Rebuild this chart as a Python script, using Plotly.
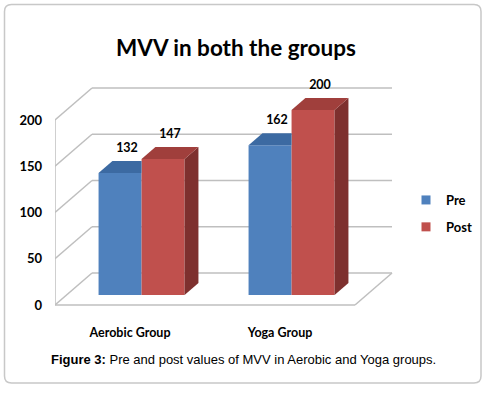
import plotly.graph_objects as go

# ---- data ----
groups = ["Aerobic Group", "Yoga Group"]
series_names = ["Pre", "Post"]
pre_values = [132, 162]
post_values = [147, 200]
y_ticks = [0, 50, 100, 150, 200]

# ---- styling / projection parameters ----
FONT = "Lato"
front_colors = {"Pre": "#4F81BD", "Post": "#C0504D"}
top_colors = {"Pre": "#3C6AA2", "Post": "#A03F3C"}
side_colors = {"Pre": "#2F5689", "Post": "#7E302E"}
grid_color = "#BFBFBF"

WX, WY = 0.2467, 34.59        # full depth offset of back wall (x units, y units)
D0 = 0.3125                   # depth of bar front face
DD = 0.375                    # bar depth
BW = 0.2867                   # bar width (x units)

x_range = [-0.5, 1.8667]
y_range = [-10.81, 248.65]
L, R, T, B = 55, 76, 75, 79
W, H = 486, 394

fig = go.Figure()

shapes = []
line = dict(color=grid_color, width=1.5)
for v in y_ticks:
    shapes.append(dict(type="line", layer="below", xref="x", yref="y",
                       x0=-0.5 + WX, y0=v + WY, x1=1.5 + WX, y1=v + WY, line=line))
    shapes.append(dict(type="line", layer="below", xref="x", yref="y",
                       x0=-0.5, y0=v, x1=-0.5 + WX, y1=v + WY, line=line))
shapes.append(dict(type="line", layer="below", xref="x", yref="y",
                   x0=-0.5, y0=0, x1=-0.5, y1=max(y_ticks), line=line))
shapes.append(dict(type="line", layer="below", xref="x", yref="y",
                   x0=-0.5, y0=0, x1=1.5, y1=0, line=line))
shapes.append(dict(type="line", layer="below", xref="x", yref="y",
                   x0=1.5, y0=0, x1=1.5 + WX, y1=WY, line=line))


def px2paper_x(px):
    return (px - L) / (W - L - R)


def px2paper_y(py):
    return (H - B - py) / (H - T - B)


x0b, x1b = px2paper_x(4.5), px2paper_x(481)
y0b, y1b = px2paper_y(383), px2paper_y(4.5)
rx, ry = 7 / (W - L - R), 7 / (H - T - B)
path = (f"M{x0b+rx},{y1b} L{x1b-rx},{y1b} Q{x1b},{y1b} {x1b},{y1b-ry} "
        f"L{x1b},{y0b+ry} Q{x1b},{y0b} {x1b-rx},{y0b} L{x0b+rx},{y0b} "
        f"Q{x0b},{y0b} {x0b},{y0b+ry} L{x0b},{y1b-ry} Q{x0b},{y1b} {x0b+rx},{y1b} Z")
shapes.append(dict(type="path", xref="paper", yref="paper", path=path,
                   line=dict(color="#C8C8C8", width=1.5), layer="below"))

base = D0 * WY
sx = D0 * WX
dxu, dyu = DD * WX, DD * WY

values = {"Pre": pre_values, "Post": post_values}

for si, name in enumerate(series_names):
    xs = [i + sx + (-BW / 2 if si == 0 else BW / 2) for i in range(len(groups))]
    fig.add_trace(go.Bar(
        x=xs, y=values[name], base=[base] * len(groups), width=BW,
        marker=dict(color=front_colors[name], line=dict(width=0)),
        name=name, showlegend=False, hoverinfo="skip"))

label_x, label_y, label_t = [], [], []
for i in range(len(groups)):
    for si, name in enumerate(series_names):
        v = values[name][i]
        x0 = i + sx + (-BW if si == 0 else 0)
        x1 = x0 + BW
        top = base + v
        tx = [x0, x1, x1 + dxu, x0 + dxu, x0]
        ty = [top, top, top + dyu, top + dyu, top]
        if si == 0:
            nxt = values[series_names[1]][i]
            if nxt >= v:
                tx = [x0, x1, x1, x0 + dxu, x0]
        else:
            fig.add_trace(go.Scatter(
                x=[x1, x1, x1 + dxu, x1 + dxu, x1],
                y=[base, top, top + dyu, base + dyu, base],
                fill="toself", fillcolor=side_colors[name], mode="lines",
                line=dict(width=0), showlegend=False, hoverinfo="skip"))
        fig.add_trace(go.Scatter(
            x=tx, y=ty, fill="toself", fillcolor=top_colors[name], mode="lines",
            line=dict(width=0), showlegend=False, hoverinfo="skip"))
        label_x.append((x0 + x1) / 2 + dxu / 2)
        label_y.append(top + dyu + 6)
        label_t.append(str(v))

fig.add_trace(go.Scatter(
    x=label_x, y=label_y, text=label_t, mode="text", textposition="top center",
    textfont=dict(family=FONT, size=12.5, color="black", weight="bold"),
    showlegend=False, hoverinfo="skip"))

for name in series_names:
    fig.add_trace(go.Scatter(
        x=[None], y=[None], mode="markers", name=name, legendgroup=name,
        marker=dict(symbol="square", size=9, color=front_colors[name])))

fig.update_layout(
    width=W, height=H,
    margin=dict(l=L, r=R, t=T, b=B, autoexpand=False),
    paper_bgcolor="white", plot_bgcolor="white",
    barmode="overlay",
    shapes=shapes,
    title=dict(text="MVV in both the groups", x=236 / W, xanchor="center",
               y=1 - 48 / H, yanchor="middle",
               font=dict(family=FONT, size=22.5, color="black", weight="bold")),
    xaxis=dict(range=x_range, tickvals=list(range(len(groups))), ticktext=groups,
               showgrid=False, zeroline=False, showline=False, ticks="",
               ticklabelstandoff=8,
               tickfont=dict(family=FONT, size=12.5, color="black", weight="bold")),
    yaxis=dict(range=y_range, tickvals=y_ticks, showgrid=False, zeroline=False,
               showline=False, ticks="", ticklabelstandoff=12,
               tickfont=dict(family=FONT, size=13, color="black", weight="bold")),
    legend=dict(x=px2paper_x(406), y=px2paper_y(185), xanchor="left", yanchor="top",
                font=dict(family=FONT, size=13, color="black", weight="bold"),
                traceorder="grouped", tracegroupgap=7, itemwidth=30,
                bgcolor="rgba(0,0,0,0)"),
    annotations=[dict(
        text="<b>Figure 3:</b> Pre and post values of MVV in Aerobic and Yoga groups.",
        xref="paper", yref="paper", x=px2paper_x(243), y=px2paper_y(359),
        xanchor="center", yanchor="middle", showarrow=False,
        font=dict(family="Liberation Sans", size=13, color="black"))],
)

fig.write_html("out.html", config={"displayModeBar": False},
               post_script="document.body.style.margin='0';document.body.style.padding='0';")
